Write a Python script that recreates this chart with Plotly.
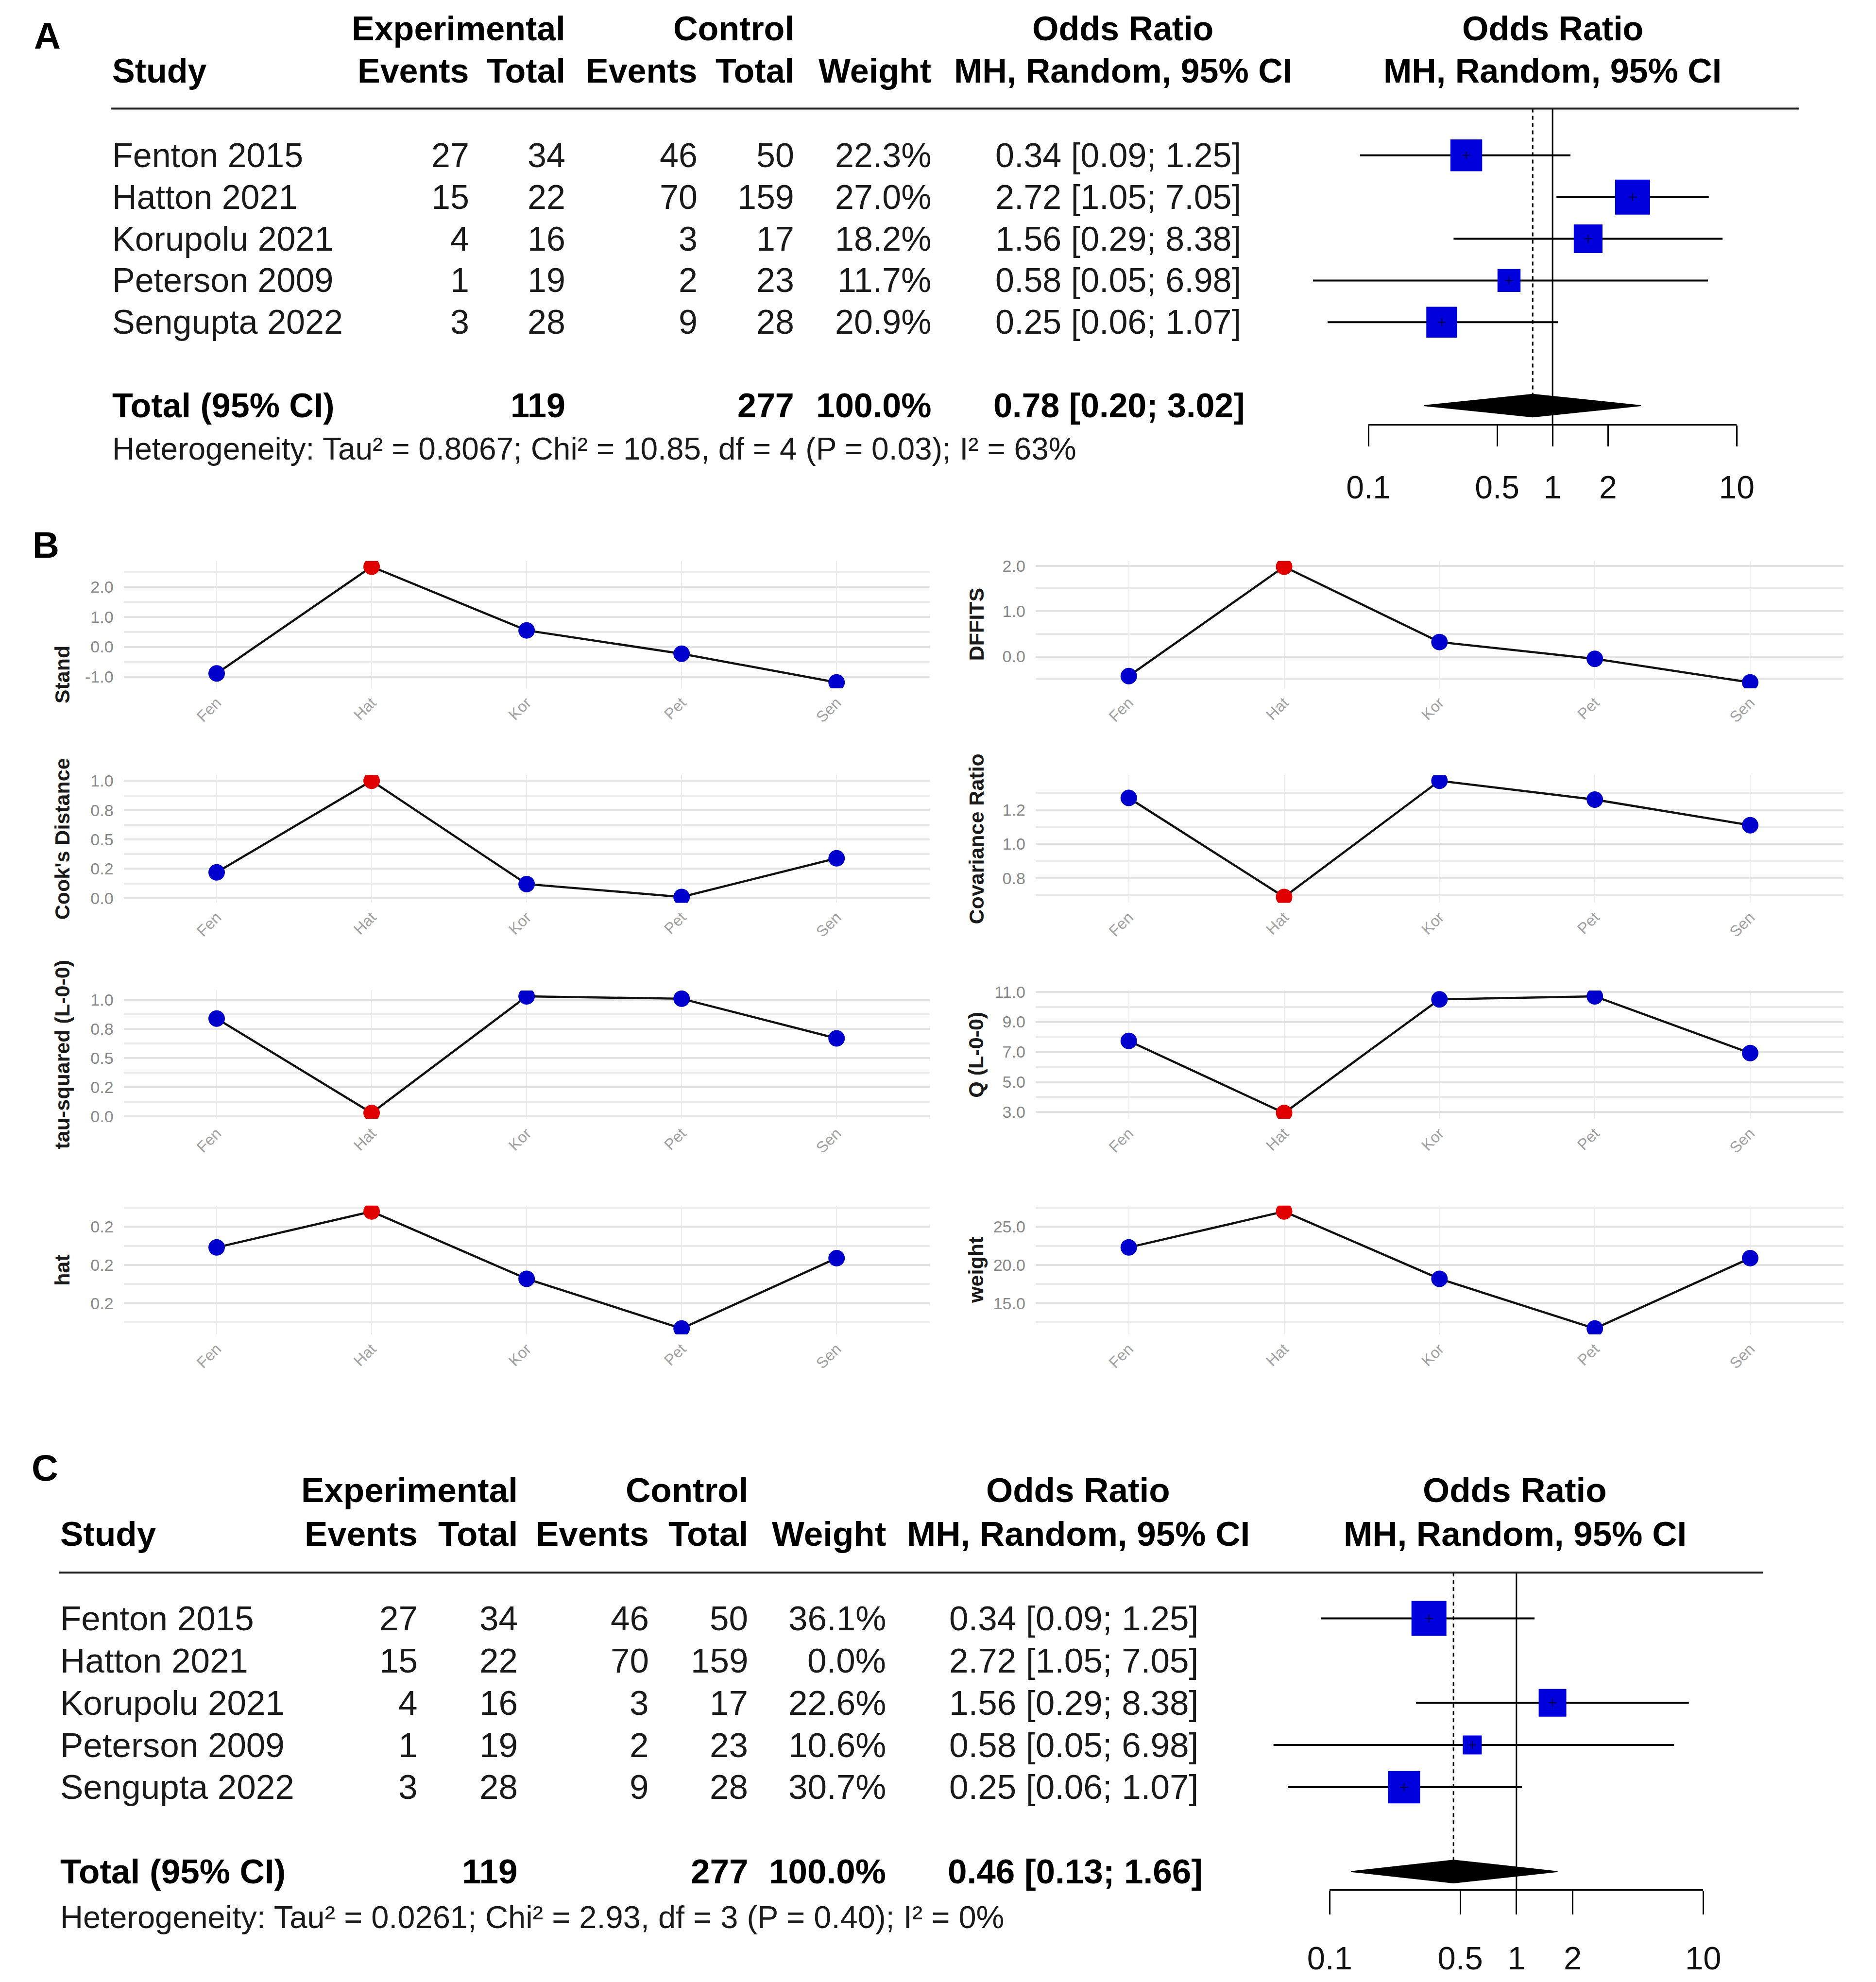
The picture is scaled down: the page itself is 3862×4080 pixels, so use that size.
import numpy as np
import plotly.graph_objects as go

W, H = 3862, 4080
FONT = "Liberation Sans"

# ---------------- data ----------------
studies = ["Fenton 2015", "Hatton 2021", "Korupolu 2021", "Peterson 2009", "Sengupta 2022"]
study_abbrev = ["Fen", "Hat", "Kor", "Pet", "Sen"]
exp_events = [27, 15, 4, 1, 3]
exp_total = [34, 22, 16, 19, 28]
ctrl_events = [46, 70, 3, 2, 9]
ctrl_total = [50, 159, 17, 23, 28]
or_est = [0.34, 2.72, 1.56, 0.58, 0.25]
or_lower = [0.09, 1.05, 0.29, 0.05, 0.06]
or_upper = [1.25, 7.05, 8.38, 6.98, 1.07]

# panel A: all studies
weight_all = [22.3, 27.0, 18.2, 11.7, 20.9]
weight_all_total = 100.0
pooled_all = [0.78, 0.20, 3.02]
het_all = dict(tau2="0.8067", chi2="10.85", df=4, p="0.03", i2=63)

# panel C: Hatton 2021 excluded
weight_excl = [36.1, 0.0, 22.6, 10.6, 30.7]
weight_excl_total = 100.0
pooled_excl = [0.46, 0.13, 1.66]
het_excl = dict(tau2="0.0261", chi2="2.93", df=3, p="0.40", i2=0)

# panel B: influence diagnostics
influential = [False, True, False, False, False]
stand_resid = [-0.89, 2.68, 0.55, -0.23, -1.19]
dffits = [-0.43, 1.98, 0.32, -0.05, -0.57]
cooks_d = [0.22, 1.00, 0.12, 0.01, 0.34]
cov_ratio = [1.27, 0.69, 1.37, 1.26, 1.11]
tau2_l00 = [0.84, 0.03, 1.03, 1.01, 0.67]
q_l00 = [7.73, 2.93, 10.50, 10.70, 6.92]
hat_vals = [0.223, 0.270, 0.182, 0.117, 0.209]
weight_vals = [22.3, 27.0, 18.2, 11.7, 20.9]

# ---------------- helpers ----------------
layout = dict(width=W, height=H, margin=dict(l=0, r=0, t=0, b=0),
              paper_bgcolor="white", plot_bgcolor="rgba(0,0,0,0)",
              showlegend=False, hovermode=False, font=dict(family=FONT))
annotations, shapes, traces = [], [], []


def px(x):
    return x / W


def py(y):
    return 1 - y / H


def txt(x, y, s, anchor="left", size=70, bold=False, color="black"):
    if bold:
        s = "<b>" + s + "</b>"
    annotations.append(dict(x=px(x), y=py(y), xref="paper", yref="paper", text=s,
                            showarrow=False, xanchor=anchor, yanchor="middle",
                            font=dict(family=FONT, size=size, color=color)))


SQ_BLUE = "#0000DD"

GA = dict(top=0, bottom=1050, row0=298, dy=86.5, x1=3211, dec=387.5, clip=(2600, 3800),
          name_x=178, cols=[933, 1136, 1414, 1617, 1905], ci_right=2558, tot_ci_right=2566,
          or_hdr=2307, fp_hdr=3211, hdr1=35, hdr2=123, line_y=201, line_x=(177, 3729),
          axis_y=855, tick_end=898, het_y=907, fs=70, hfs=64, tfs=66, standoff=28)
GC = dict(top=2960, bottom=4080, row0=3332, dy=87.5, x1=3135, dec=393, clip=(2500, 3750),
          name_x=68, cols=[825, 1036, 1312, 1520, 1810], ci_right=2468, tot_ci_right=2477,
          or_hdr=2213, fp_hdr=3132, hdr1=3066, hdr2=3157, line_y=3237, line_x=(68, 3654),
          axis_y=3894, tick_end=3943, het_y=3952, fs=71, hfs=65, tfs=67, standoff=32)


def forest(g, weights, w_total, pooled, het, n1, n2):
    xa = "x" if n1 == "" else f"x{n1}"
    ya = "y" if n1 == "" else f"y{n1}"
    xk = "xaxis" if n1 == "" else f"xaxis{n1}"
    yk = "yaxis" if n1 == "" else f"yaxis{n1}"
    xv, yv = f"x{n2}", f"y{n2}"

    def r(p):
        return (p - g["row0"]) / g["dy"]

    tot_row = 6
    layout[xk] = dict(domain=[px(g["clip"][0]), px(g["clip"][1])], type="log",
                      range=[(g["clip"][0] - g["x1"]) / g["dec"], (g["clip"][1] - g["x1"]) / g["dec"]],
                      visible=False, anchor=ya)
    layout[yk] = dict(domain=[py(g["bottom"]), py(g["top"])], range=[r(g["bottom"]), r(g["top"])],
                      visible=False, anchor=xa)
    # visible log axis drawn at the bottom of a small helper subplot
    layout[f"xaxis{n2}"] = dict(domain=[px(g["x1"] - g["dec"]), px(g["x1"] + g["dec"])], type="log",
                                range=[-1, 1], anchor=yv, showline=True, linecolor="black", linewidth=3,
                                ticks="outside", ticklen=g["tick_end"] - g["axis_y"], tickwidth=3,
                                tickcolor="black", tickmode="array",
                                tickvals=[0.1, 0.5, 1, 2, 10], ticktext=["0.1", "0.5", "1", "2", "10"],
                                tickfont=dict(family=FONT, size=g["tfs"], color="#111111"),
                                ticklabelstandoff=g["standoff"], showgrid=False, zeroline=False,
                                fixedrange=True)
    layout[f"yaxis{n2}"] = dict(domain=[py(g["axis_y"]), py(g["axis_y"] - 60)], visible=False,
                                anchor=xv, range=[0, 1], fixedrange=True)
    traces.append(go.Scatter(x=[1], y=[0.5], xaxis=xv, yaxis=yv, mode="markers",
                             marker=dict(opacity=0), hoverinfo="skip"))

    # reference lines
    traces.append(go.Scatter(x=[1, 1], y=[r(g["line_y"]), r(g["axis_y"])], xaxis=xa, yaxis=ya,
                             mode="lines", line=dict(color="black", width=3)))
    traces.append(go.Scatter(x=[pooled[0], pooled[0]], y=[r(g["line_y"]), tot_row], xaxis=xa, yaxis=ya,
                             mode="lines", line=dict(color="black", width=3, dash="8px,7px")))
    # CI lines
    cx, cy = [], []
    for i in range(len(studies)):
        if weights[i] > 0:
            cx += [or_lower[i], or_upper[i], None]
            cy += [i, i, None]
    traces.append(go.Scatter(x=cx, y=cy, xaxis=xa, yaxis=ya, mode="lines",
                             line=dict(color="black", width=4)))
    idx = [i for i in range(len(studies)) if weights[i] > 0]
    wmax = max(weights)
    traces.append(go.Scatter(x=[or_est[i] for i in idx], y=idx, xaxis=xa, yaxis=ya, mode="markers",
                             marker=dict(symbol="square", color=SQ_BLUE, opacity=1,
                                         size=[72 * np.sqrt(weights[i] / wmax) for i in idx],
                                         line=dict(width=0))))
    traces.append(go.Scatter(x=[or_est[i] for i in idx], y=idx, xaxis=xa, yaxis=ya, mode="markers",
                             marker=dict(symbol="cross-thin", size=12, opacity=1,
                                         line=dict(color="#000044", width=2))))
    # diamond
    h = 0.27
    traces.append(go.Scatter(x=[pooled[1], pooled[0], pooled[2], pooled[0], pooled[1]],
                             y=[tot_row, tot_row - h, tot_row, tot_row + h, tot_row],
                             xaxis=xa, yaxis=ya, mode="lines", fill="toself", fillcolor="black",
                             line=dict(color="black", width=2)))

    # header line
    shapes.append(dict(type="line", xref="paper", yref="paper", x0=px(g["line_x"][0]), x1=px(g["line_x"][1]),
                       y0=py(g["line_y"]), y1=py(g["line_y"]), line=dict(color="#222222", width=4)))
    fs = g["fs"]
    c = g["cols"]
    txt(c[1], g["hdr1"], "Experimental", "right", fs, True)
    txt(c[3], g["hdr1"], "Control", "right", fs, True)
    txt(g["or_hdr"], g["hdr1"], "Odds Ratio", "center", fs, True)
    txt(g["fp_hdr"], g["hdr1"], "Odds Ratio", "center", fs, True)
    txt(g["name_x"], g["hdr2"], "Study", "left", fs, True)
    for k, lab in enumerate(["Events", "Total", "Events", "Total", "Weight"]):
        txt(c[k], g["hdr2"], lab, "right", fs, True)
    txt(g["or_hdr"], g["hdr2"], "MH, Random, 95% CI", "center", fs, True)
    txt(g["fp_hdr"], g["hdr2"], "MH, Random, 95% CI", "center", fs, True)

    for i, s in enumerate(studies):
        y = g["row0"] + i * g["dy"]
        txt(g["name_x"], y, s, "left", fs, color="#1a1a1a")
        for k, v in enumerate([exp_events[i], exp_total[i], ctrl_events[i], ctrl_total[i]]):
            txt(c[k], y, str(v), "right", fs, color="#1a1a1a")
        txt(c[4], y, f"{weights[i]:.1f}%", "right", fs, color="#1a1a1a")
        txt(g["ci_right"], y, f"{or_est[i]:.2f} [{or_lower[i]:.2f}; {or_upper[i]:.2f}]", "right", fs,
            color="#1a1a1a")
    yt = g["row0"] + tot_row * g["dy"]
    txt(g["name_x"], yt, "Total (95% CI)", "left", fs, True)
    txt(c[1], yt, str(sum(exp_total)), "right", fs, True)
    txt(c[3], yt, str(sum(ctrl_total)), "right", fs, True)
    txt(c[4], yt, f"{w_total:.1f}%", "right", fs, True)
    txt(g["tot_ci_right"], yt, f"{pooled[0]:.2f} [{pooled[1]:.2f}; {pooled[2]:.2f}]", "right", fs, True)
    het_s = (f"Heterogeneity: Tau\u00b2 = {het['tau2']}; Chi\u00b2 = {het['chi2']}, "
             f"df = {het['df']} (P = {het['p']}); I\u00b2 = {het['i2']}%")
    txt(g["name_x"], g["het_y"], het_s, "left", g["hfs"], color="#1a1a1a")


forest(GA, weight_all, weight_all_total, pooled_all, het_all, "", "2")
forest(GC, weight_excl, weight_excl_total, pooled_excl, het_excl, "11", "12")

# ---------------- panel B ----------------
diag = [
    ("Stand", stand_resid, [-1, 0, 1, 2], ["-1.0", "0.0", "1.0", "2.0"], [-0.5, 0.5, 1.5, 2.5]),
    ("DFFITS", dffits, [0, 1, 2], ["0.0", "1.0", "2.0"], [-0.5, 0.5, 1.5]),
    ("Cook's Distance", cooks_d, [0, 0.25, 0.5, 0.75, 1.0], ["0.0", "0.2", "0.5", "0.8", "1.0"],
     [0.125, 0.375, 0.625, 0.875]),
    ("Covariance Ratio", cov_ratio, [0.8, 1.0, 1.2], ["0.8", "1.0", "1.2"], [0.7, 0.9, 1.1, 1.3]),
    ("tau-squared (L-0-0)", tau2_l00, [0, 0.25, 0.5, 0.75, 1.0], ["0.0", "0.2", "0.5", "0.8", "1.0"],
     [0.125, 0.375, 0.625, 0.875]),
    ("Q (L-0-0)", q_l00, [3, 5, 7, 9, 11], ["3.0", "5.0", "7.0", "9.0", "11.0"], [4, 6, 8, 10]),
    ("hat", hat_vals, [0.15, 0.2, 0.25], ["0.2", "0.2", "0.2"], [0.125, 0.175, 0.225, 0.275]),
    ("weight", weight_vals, [15, 20, 25], ["15.0", "20.0", "25.0"], [12.5, 17.5, 22.5, 27.5]),
]
col_x = [(204, 1900), (2123, 3823)]
row_y = [(1139, 1403), (1583, 1848), (2030, 2296), (2476, 2743)]
title_x = [75, 1998]
pt_colors = ["#E00000" if f else "#0000CC" for f in influential]

for k, (title, vals, majors, majlab, minors) in enumerate(diag):
    n = k + 3
    col, row = k % 2, k // 2
    x0, x1 = col_x[col]
    y0, y1 = row_y[row]
    lo, hi = min(vals), max(vals)
    pad = (hi - lo) * 0.05
    layout[f"xaxis{n}"] = dict(domain=[px(x0), px(x1)], type="category", categoryorder="array",
                               categoryarray=study_abbrev, range=[-0.6, 4.6], anchor=f"y{n}",
                               showgrid=True, gridcolor="#ebebeb", gridwidth=2, zeroline=False,
                               showline=False, ticks="", tickangle=-45, ticklabelstandoff=4,
                               tickfont=dict(family=FONT, size=32, color="#a0a0a0"), fixedrange=True)
    layout[f"yaxis{n}"] = dict(domain=[py(y1), py(y0)], range=[lo - pad, hi + pad], anchor=f"x{n}",
                               tickmode="array", tickvals=majors, ticktext=majlab,
                               showgrid=True, gridcolor="#e4e4e4", gridwidth=4, zeroline=False,
                               showline=False, ticks="", ticklabelstandoff=20,
                               tickfont=dict(family=FONT, size=34, color="#888888"),
                               minor=dict(tickmode="array", tickvals=minors, showgrid=True,
                                          gridcolor="#eaeaea", gridwidth=3.5),
                               fixedrange=True)
    traces.append(go.Scatter(x=study_abbrev, y=vals, xaxis=f"x{n}", yaxis=f"y{n}", mode="lines",
                             line=dict(color="#111111", width=4.5)))
    traces.append(go.Scatter(x=study_abbrev, y=vals, xaxis=f"x{n}", yaxis=f"y{n}", mode="markers",
                             marker=dict(size=34, color=pt_colors, opacity=1, line=dict(width=0))))
    ty = 1375 if title == "Stand" else (y0 + y1) / 2
    annotations.append(dict(x=px(title_x[col]), y=py(ty), xref="paper", yref="paper",
                            text="<b>" + title + "</b>", showarrow=False, textangle=-90,
                            xanchor="center", yanchor="middle",
                            font=dict(family=FONT, size=43, color="#1a1a1a")))

# panel letters
for lab, x, y in [("A", 43, 50), ("B", 40, 1106), ("C", 38, 3020)]:
    txt(x, y, lab, "center", 76, True)

layout["annotations"] = annotations
layout["shapes"] = shapes
fig = go.Figure(data=traces, layout=layout)
fig.write_html("out.html")
